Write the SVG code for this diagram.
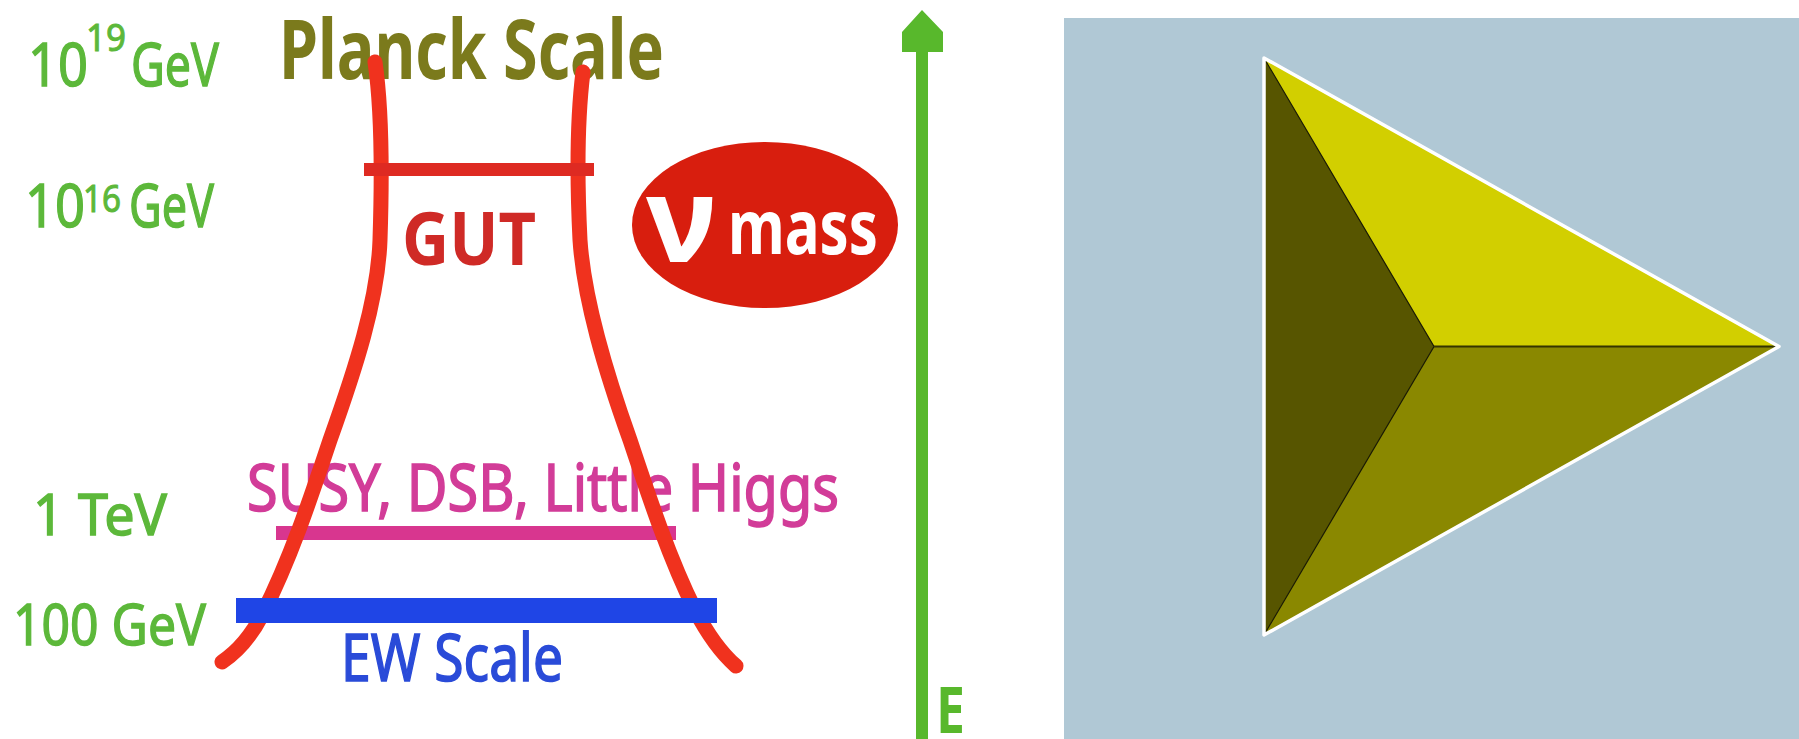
<svg xmlns="http://www.w3.org/2000/svg" width="1799" height="739" viewBox="0 0 1799 739">
  <style>
    text { font-family: "Noto Sans", "Open Sans", "DejaVu Sans", sans-serif; }
    .energy { fill: #5cb83a; stroke: #5cb83a; stroke-width: 1.4; font-size: 60px; }
    .energy-sup { fill: #5cb83a; stroke: #5cb83a; stroke-width: 1; font-size: 38px; }
    .energy-sm { fill: #5cb83a; stroke: #5cb83a; stroke-width: 1.4; font-size: 57px; }
    .title { fill: #7b7a1c; font-size: 82px; font-weight: bold; }
    .gut { fill: #cf2a26; font-size: 74px; font-weight: bold; }
    .susy { fill: #d23c98; stroke: #d23c98; stroke-width: 1.6; font-size: 66px; }
    .ew { fill: #2a4bd8; stroke: #2a4bd8; stroke-width: 1.6; font-size: 66px; }
    .badge { fill: #ffffff; font-weight: bold; }
    .axis { fill: #58b82c; }
    .trumpet { fill: none; stroke: #f0321e; stroke-width: 15; stroke-linecap: round; stroke-linejoin: round; }
    .inner-edge { fill: none; stroke: #1a1a00; stroke-width: 1.2; }
  </style>

  <rect x="0" y="0" width="1799" height="739" fill="#ffffff"/>

  <!-- energy scale labels -->
  <g id="label-planck-energy">
    <text class="energy" x="28" y="86" textLength="60" lengthAdjust="spacingAndGlyphs">10</text>
    <text class="energy-sup" x="86" y="51" textLength="40" lengthAdjust="spacingAndGlyphs">19</text>
    <text class="energy" x="131" y="86" textLength="88" lengthAdjust="spacingAndGlyphs">GeV</text>
  </g>
  <g id="label-gut-energy">
    <text class="energy" x="25" y="227" textLength="60" lengthAdjust="spacingAndGlyphs">10</text>
    <text class="energy-sup" x="83" y="212" textLength="38" lengthAdjust="spacingAndGlyphs">16</text>
    <text class="energy" x="129" y="227" textLength="85" lengthAdjust="spacingAndGlyphs">GeV</text>
  </g>
  <g id="label-tev">
    <text class="energy-sm" x="33" y="535" textLength="134" lengthAdjust="spacingAndGlyphs">1 TeV</text>
  </g>
  <g id="label-100gev">
    <text class="energy-sm" x="13" y="645" textLength="193" lengthAdjust="spacingAndGlyphs">100 GeV</text>
  </g>

  <!-- scale names drawn beneath the trumpet lines -->
  <g id="planck-scale">
    <text class="title" x="279" y="79" textLength="385" lengthAdjust="spacingAndGlyphs">Planck Scale</text>
  </g>
  <g id="new-physics">
    <text class="susy" x="247" y="511" textLength="592" lengthAdjust="spacingAndGlyphs">SUSY, DSB, Little Higgs</text>
    <rect x="276" y="526" width="400" height="14" fill="#d8368f"/>
  </g>

  <!-- trumpet outline -->
  <g id="trumpet">
    <path class="trumpet" d="M375,62 C382,110 382,180 380,240 C378,300 355,370 330,440 C310,500 290,560 262,615 C250,638 237,652 222,662"/>
    <path class="trumpet" d="M583,72 C577,120 577,180 580,240 C584,300 605,370 630,440 C650,500 670,560 695,610 C708,635 720,652 736,666"/>
  </g>

  <g id="gut">
    <rect x="364" y="163" width="230" height="13" fill="#de2a22"/>
    <text class="gut" x="402" y="265" textLength="134" lengthAdjust="spacingAndGlyphs">GUT</text>
  </g>

  <g id="ew-scale">
    <rect x="236" y="598" width="481" height="25" fill="#1f45e6"/>
    <text class="ew" x="341" y="681" textLength="222" lengthAdjust="spacingAndGlyphs">EW Scale</text>
  </g>

  <g id="nu-mass">
    <ellipse cx="765" cy="225" rx="133" ry="83" fill="#d81e0e"/>
    <text class="badge" x="646" y="262" font-size="118" textLength="70" lengthAdjust="spacingAndGlyphs">ν</text>
    <text class="badge" x="728" y="254" font-size="75" textLength="150" lengthAdjust="spacingAndGlyphs">mass</text>
  </g>

  <!-- energy axis -->
  <g id="energy-axis">
    <path class="axis" d="M916,739 L916,52 L902,52 L902,32 L922,10 L943,32 L943,52 L928,52 L928,739 Z"/>
    <text class="axis" x="936" y="733" font-size="64" font-weight="bold" textLength="29" lengthAdjust="spacingAndGlyphs">E</text>
  </g>

  <!-- pyramid viewed from above -->
  <g id="pyramid">
    <rect x="1064" y="18" width="735" height="721" fill="#b0c8d5"/>
    <polygon points="1264,58 1779,346.5 1434,346.5" fill="#d2cf00"/>
    <polygon points="1434,346.5 1779,346.5 1264,635" fill="#8a8800"/>
    <polygon points="1264,58 1434,346.5 1264,635" fill="#575500"/>
    <polyline class="inner-edge" points="1264,58 1434,346.5 1264,635"/>
    <line x1="1434" y1="346.5" x2="1779" y2="346.5" stroke="#333300" stroke-width="2"/>
    <polygon points="1264,58 1779,346.5 1264,635" fill="none" stroke="#ffffff" stroke-width="3.5" stroke-linejoin="round"/>
  </g>
</svg>
